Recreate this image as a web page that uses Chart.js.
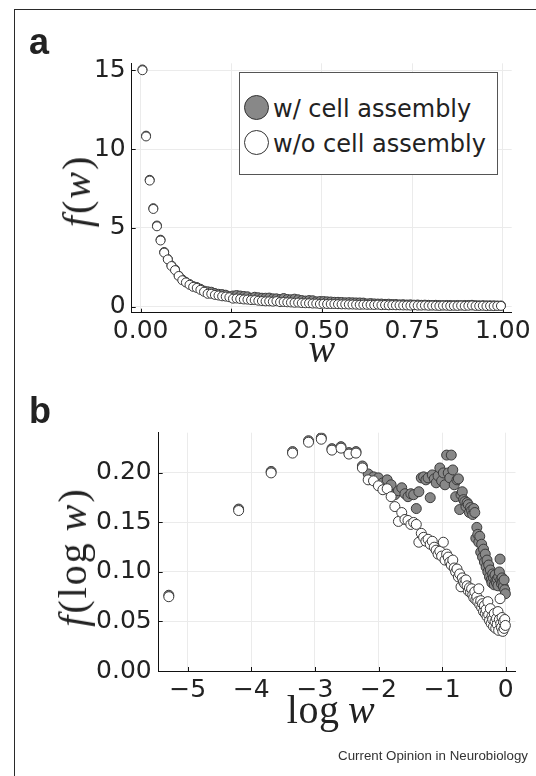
<!DOCTYPE html>
<html>
<head>
<meta charset="utf-8">
<script src="https://cdn.jsdelivr.net/npm/chart.js@4.4.1/dist/chart.umd.min.js"></script>
<style>
  html, body { margin:0; padding:0; background:#fff; }
  #page { position:relative; width:536px; height:776px; overflow:hidden; background:#fff; }
  .frame { position:absolute; left:14px; top:9px; right:-10px; bottom:-10px; border-left:1.5px solid #2a2a2a; border-top:1.5px solid #2a2a2a; }
  canvas { position:absolute; left:0; }
  .plabel { position:absolute; font-family:'Liberation Sans', Arial, sans-serif; font-weight:bold; font-size:36px; line-height:36px; color:#222; }
  .math { position:absolute; font-family:'Liberation Serif', 'DejaVu Serif', serif; font-size:40px; line-height:40px; letter-spacing:2px; color:#222; white-space:nowrap; }
  .math i { font-style:italic; }
  .rot { transform:translate(-50%,-50%) rotate(-90deg); }
  .hor { transform:translate(-50%,0); letter-spacing:0.5px; }
  #legend { position:absolute; left:239px; top:72px; width:259px; height:103px; border:1px solid #555; background:#fff; box-sizing:border-box; }
  .lmark { position:absolute; width:25px; height:25px; border-radius:50%; box-sizing:border-box; border:1.3px solid #333; }
  .ltext { position:absolute; font-family:'DejaVu Sans', sans-serif; font-size:24px; line-height:24px; color:#222; white-space:nowrap; }
  #caption { position:absolute; right:8px; top:749px; font-family:'Liberation Sans', Arial, sans-serif; font-size:13.3px; line-height:13.3px; color:#333; }
</style>
</head>
<body>
<div id="page">
  <div class="frame"></div>
  <canvas id="chartA" width="536" height="380" style="top:0"></canvas>
  <canvas id="chartB" width="536" height="396" style="top:380px"></canvas>
  <div class="plabel" style="left:29px; top:24px;">a</div>
  <div class="plabel" style="left:29px; top:393px;">b</div>
  <div class="math rot" style="left:77px; top:191px;"><i>f</i>(<i>w</i>)</div>
  <div class="math hor" style="left:322px; top:329px;"><i>w</i></div>
  <div class="math rot" style="left:73px; top:557px;"><i>f</i>(log&#8201;<i>w</i>)</div>
  <div class="math hor" style="left:331px; top:690px;">log&#8201;<i>w</i></div>
  <div id="legend"></div>
  <div id="caption">Current Opinion in Neurobiology</div>
</div>
<script>
// ---------- data ----------
const seriesNames = ['w/ cell assembly', 'w/o cell assembly'];

// panel a: bin centres of w
const wBins = [0.005,0.015,0.025,0.035,0.045,0.055,0.065,0.075,0.085,0.095,
0.105,0.115,0.125,0.135,0.145,0.155,0.165,0.175,0.185,0.195,
0.205,0.215,0.225,0.235,0.245,0.255,0.265,0.275,0.285,0.295,
0.305,0.315,0.325,0.335,0.345,0.355,0.365,0.375,0.385,0.395,
0.405,0.415,0.425,0.435,0.445,0.455,0.465,0.475,0.485,0.495,
0.505,0.515,0.525,0.535,0.545,0.555,0.565,0.575,0.585,0.595,
0.605,0.615,0.625,0.635,0.645,0.655,0.665,0.675,0.685,0.695,
0.705,0.715,0.725,0.735,0.745,0.755,0.765,0.775,0.785,0.795,
0.805,0.815,0.825,0.835,0.845,0.855,0.865,0.875,0.885,0.895,
0.905,0.915,0.925,0.935,0.945,0.955,0.965,0.975,0.985,0.995];

// f(w) with cell assembly (grey)
const fWith = [15.05,10.85,8.05,6.25,5.15,4.25,3.47,3.03,2.62,2.36,
1.97,1.73,1.57,1.44,1.31,1.25,1.14,1.02,0.98,0.95,
0.87,0.82,0.80,0.76,0.67,0.71,0.74,0.71,0.68,0.66,
0.57,0.63,0.60,0.57,0.57,0.58,0.53,0.53,0.49,0.55,
0.49,0.47,0.51,0.47,0.42,0.39,0.42,0.41,0.34,0.36,
0.36,0.34,0.33,0.31,0.31,0.30,0.28,0.29,0.28,0.27,
0.27,0.26,0.21,0.23,0.21,0.20,0.20,0.18,0.19,0.17,
0.17,0.15,0.16,0.14,0.15,0.13,0.14,0.12,0.13,0.12,
0.11,0.12,0.11,0.10,0.11,0.11,0.10,0.11,0.10,0.11,
0.11,0.12,0.10,0.09,0.10,0.09,0.09,0.09,0.08,0.08];

// f(w) without cell assembly (white)
const fWithout = [15.0,10.8,8.0,6.2,5.1,4.2,3.43,3.0,2.58,2.32,
1.95,1.68,1.54,1.39,1.26,1.19,1.07,0.95,0.82,0.82,
0.75,0.71,0.66,0.64,0.60,0.51,0.52,0.49,0.46,0.45,
0.42,0.42,0.38,0.36,0.34,0.34,0.32,0.35,0.29,0.30,
0.28,0.27,0.25,0.26,0.23,0.22,0.22,0.20,0.20,0.17,
0.19,0.17,0.17,0.17,0.16,0.15,0.15,0.14,0.14,0.13,
0.12,0.13,0.12,0.12,0.11,0.13,0.10,0.11,0.09,0.10,
0.09,0.09,0.08,0.08,0.07,0.09,0.07,0.07,0.08,0.06,
0.07,0.06,0.05,0.07,0.06,0.05,0.06,0.05,0.07,0.05,
0.06,0.08,0.05,0.05,0.06,0.04,0.05,0.04,0.05,0.05];

// panel b: log w of the same bins
const logW = [-5.298,-4.200,-3.689,-3.352,-3.101,-2.900,-2.733,-2.590,-2.465,-2.354,
-2.254,-2.163,-2.079,-2.002,-1.931,-1.864,-1.802,-1.743,-1.687,-1.635,
-1.585,-1.537,-1.492,-1.448,-1.406,-1.366,-1.328,-1.291,-1.255,-1.221,
-1.187,-1.155,-1.124,-1.094,-1.064,-1.036,-1.008,-0.981,-0.955,-0.929,
-0.904,-0.879,-0.856,-0.832,-0.810,-0.787,-0.766,-0.744,-0.724,-0.703,
-0.683,-0.664,-0.644,-0.625,-0.607,-0.589,-0.571,-0.553,-0.536,-0.519,
-0.502,-0.486,-0.470,-0.454,-0.439,-0.423,-0.408,-0.393,-0.378,-0.364,
-0.349,-0.335,-0.322,-0.308,-0.294,-0.281,-0.268,-0.255,-0.242,-0.229,
-0.217,-0.205,-0.192,-0.180,-0.168,-0.157,-0.145,-0.134,-0.122,-0.111,
-0.100,-0.089,-0.078,-0.067,-0.057,-0.046,-0.036,-0.025,-0.015,-0.005];

// f(log w) with cell assembly (grey)
const fLogWith = [0.0765,0.1635,0.2015,0.2215,0.2325,0.2355,0.2245,0.2265,0.2205,0.2215,
0.207,0.199,0.196,0.195,0.190,0.193,0.188,0.178,0.182,0.185,
0.179,0.176,0.179,0.178,0.164,0.181,0.195,0.196,0.193,0.195,
0.175,0.198,0.194,0.190,0.197,0.205,0.192,0.200,0.188,0.218,
0.200,0.195,0.218,0.203,0.188,0.176,0.193,0.194,0.163,0.178,
0.181,0.173,0.171,0.166,0.170,0.168,0.160,0.165,0.162,0.158,
0.164,0.160,0.134,0.145,0.138,0.130,0.136,0.120,0.128,0.115,
0.123,0.110,0.118,0.105,0.112,0.100,0.107,0.095,0.102,0.092,
0.089,0.098,0.094,0.087,0.097,0.091,0.089,0.093,0.086,0.095,
0.100,0.113,0.092,0.088,0.094,0.090,0.085,0.092,0.082,0.078];

// f(log w) without cell assembly (white)
const fLogWithout = [0.075,0.162,0.200,0.220,0.231,0.234,0.223,0.225,0.219,0.220,
0.205,0.193,0.192,0.187,0.183,0.184,0.176,0.166,0.151,0.160,
0.153,0.152,0.148,0.150,0.148,0.130,0.139,0.135,0.131,0.133,
0.128,0.131,0.125,0.122,0.118,0.121,0.116,0.130,0.112,0.118,
0.115,0.110,0.107,0.112,0.104,0.100,0.103,0.095,0.098,0.085,
0.094,0.090,0.088,0.092,0.086,0.081,0.084,0.079,0.083,0.077,
0.074,0.080,0.072,0.075,0.070,0.083,0.067,0.071,0.064,0.068,
0.060,0.066,0.058,0.062,0.055,0.070,0.057,0.051,0.063,0.048,
0.055,0.052,0.045,0.058,0.050,0.043,0.053,0.047,0.060,0.041,
0.052,0.073,0.048,0.044,0.054,0.040,0.050,0.043,0.052,0.046];

// tick values and labels
const xTicksA = [0, 0.25, 0.5, 0.75, 1.0];
const xTickLabelsA = ['0.00', '0.25', '0.50', '0.75', '1.00'];
const yTicksA = [0, 5, 10, 15];
const yTickLabelsA = ['0', '5', '10', '15'];
const xTicksB = [-5, -4, -3, -2, -1, 0];
const xTickLabelsB = ['\u22125', '\u22124', '\u22123', '\u22122', '\u22121', '0'];
const yTicksB = [0, 0.05, 0.10, 0.15, 0.20];
const yTickLabelsB = ['0.00', '0.05', '0.10', '0.15', '0.20'];

// ---------- styling ----------
const GREY = '#888888';
const WHITE = '#ffffff';
const EDGE = '#3a3a3a';
const GRID = '#ebebeb';

Chart.defaults.font.family = "'DejaVu Sans', sans-serif";
Chart.defaults.font.size = 25;
Chart.defaults.color = '#222';

const innerTicks = {
  id: 'innerTicks',
  beforeDatasetsDraw(chart) {
    const ctx = chart.ctx, a = chart.chartArea;
    const xs = chart.scales.x, ys = chart.scales.y;
    ctx.save();
    ctx.strokeStyle = '#111';
    ctx.lineWidth = 1;
    ctx.beginPath();
    xs.ticks.forEach(t => { const p = Math.round(xs.getPixelForValue(t.value)) + 0.5; ctx.moveTo(p, a.bottom); ctx.lineTo(p, a.bottom - 4); });
    ys.ticks.forEach(t => { const p = Math.round(ys.getPixelForValue(t.value)) + 0.5; ctx.moveTo(a.left, p); ctx.lineTo(a.left + 4, p); });
    ctx.stroke();
    ctx.restore();
  }
};

function makeChart(id, xs, yWith, yWithout, cfg) {
  const pts = (ys) => xs.map((x, i) => ({ x: x, y: ys[i] }));
  return new Chart(document.getElementById(id), {
    type: 'scatter',
    data: {
      datasets: [
        { label: seriesNames[1], data: pts(yWithout), backgroundColor: WHITE, borderColor: EDGE, borderWidth: 1, pointRadius: cfg.r, order: 0 },
        { label: seriesNames[0], data: pts(yWith), backgroundColor: GREY, borderColor: EDGE, borderWidth: 1, pointRadius: cfg.r, order: 1 }
      ]
    },
    options: {
      responsive: false, animation: false, devicePixelRatio: 1,
      layout: { padding: { left: 0, top: cfg.top, right: cfg.right, bottom: 0 } },
      plugins: { legend: { display: false }, tooltip: { enabled: false } },
      scales: {
        x: {
          type: 'linear', min: cfg.xmin, max: cfg.xmax,
          grid: { color: GRID, lineWidth: 1, drawTicks: false },
          border: { display: true, color: '#111', width: 1 },
          ticks: { padding: cfg.xpad, autoSkip: false, maxRotation: 0, callback: (v, i) => cfg.xl[i] },
          afterBuildTicks: s => { s.ticks = cfg.xt.map(v => ({ value: v })); },
          afterFit: s => { s.height = cfg.xh; }
        },
        y: {
          type: 'linear', min: cfg.ymin, max: cfg.ymax,
          grid: { color: GRID, lineWidth: 1, drawTicks: false },
          border: { display: true, color: '#111', width: 1 },
          ticks: { padding: cfg.ypad, autoSkip: false, callback: (v, i) => cfg.yl[i] },
          afterBuildTicks: s => { s.ticks = cfg.yt.map(v => ({ value: v })); },
          afterFit: s => { s.width = cfg.yw; }
        }
      }
    },
    plugins: [innerTicks]
  });
}

const chartA = makeChart('chartA', wBins, fWith, fWithout, {
  r: 4.5, top: 63.3, right: 24.3, xh: 67.3, yw: 131.7,
  xmin: -0.0247, xmax: 1.0247, ymin: -0.38, ymax: 15.44,
  xt: xTicksA, xl: xTickLabelsA, yt: yTicksA, yl: yTickLabelsA, xpad: 4, ypad: 6
});
const chartB = makeChart('chartB', logW, fLogWith, fLogWithout, {
  r: 5, top: 52.7, right: 20.5, xh: 105, yw: 158.7,
  xmin: -5.457, xmax: 0.154, ymin: 0, ymax: 0.2406,
  xt: xTicksB, xl: xTickLabelsB, yt: yTicksB, yl: yTickLabelsB, xpad: 4, ypad: 7
});

// legend built from chart A datasets
(function buildLegend() {
  const box = document.getElementById('legend');
  const ds = chartA.data.datasets;
  seriesNames.forEach((name, row) => {
    const d = ds.find(x => x.label === name);
    const m = document.createElement('div');
    m.className = 'lmark';
    m.style.left = '4px';
    m.style.top = (22 + row * 35) + 'px';
    m.style.background = d.backgroundColor;
    box.appendChild(m);
    const t = document.createElement('div');
    t.className = 'ltext';
    t.style.left = '33px';
    t.style.top = (24 + row * 35) + 'px';
    t.textContent = d.label;
    box.appendChild(t);
  });
})();
</script>
</body>
</html>
